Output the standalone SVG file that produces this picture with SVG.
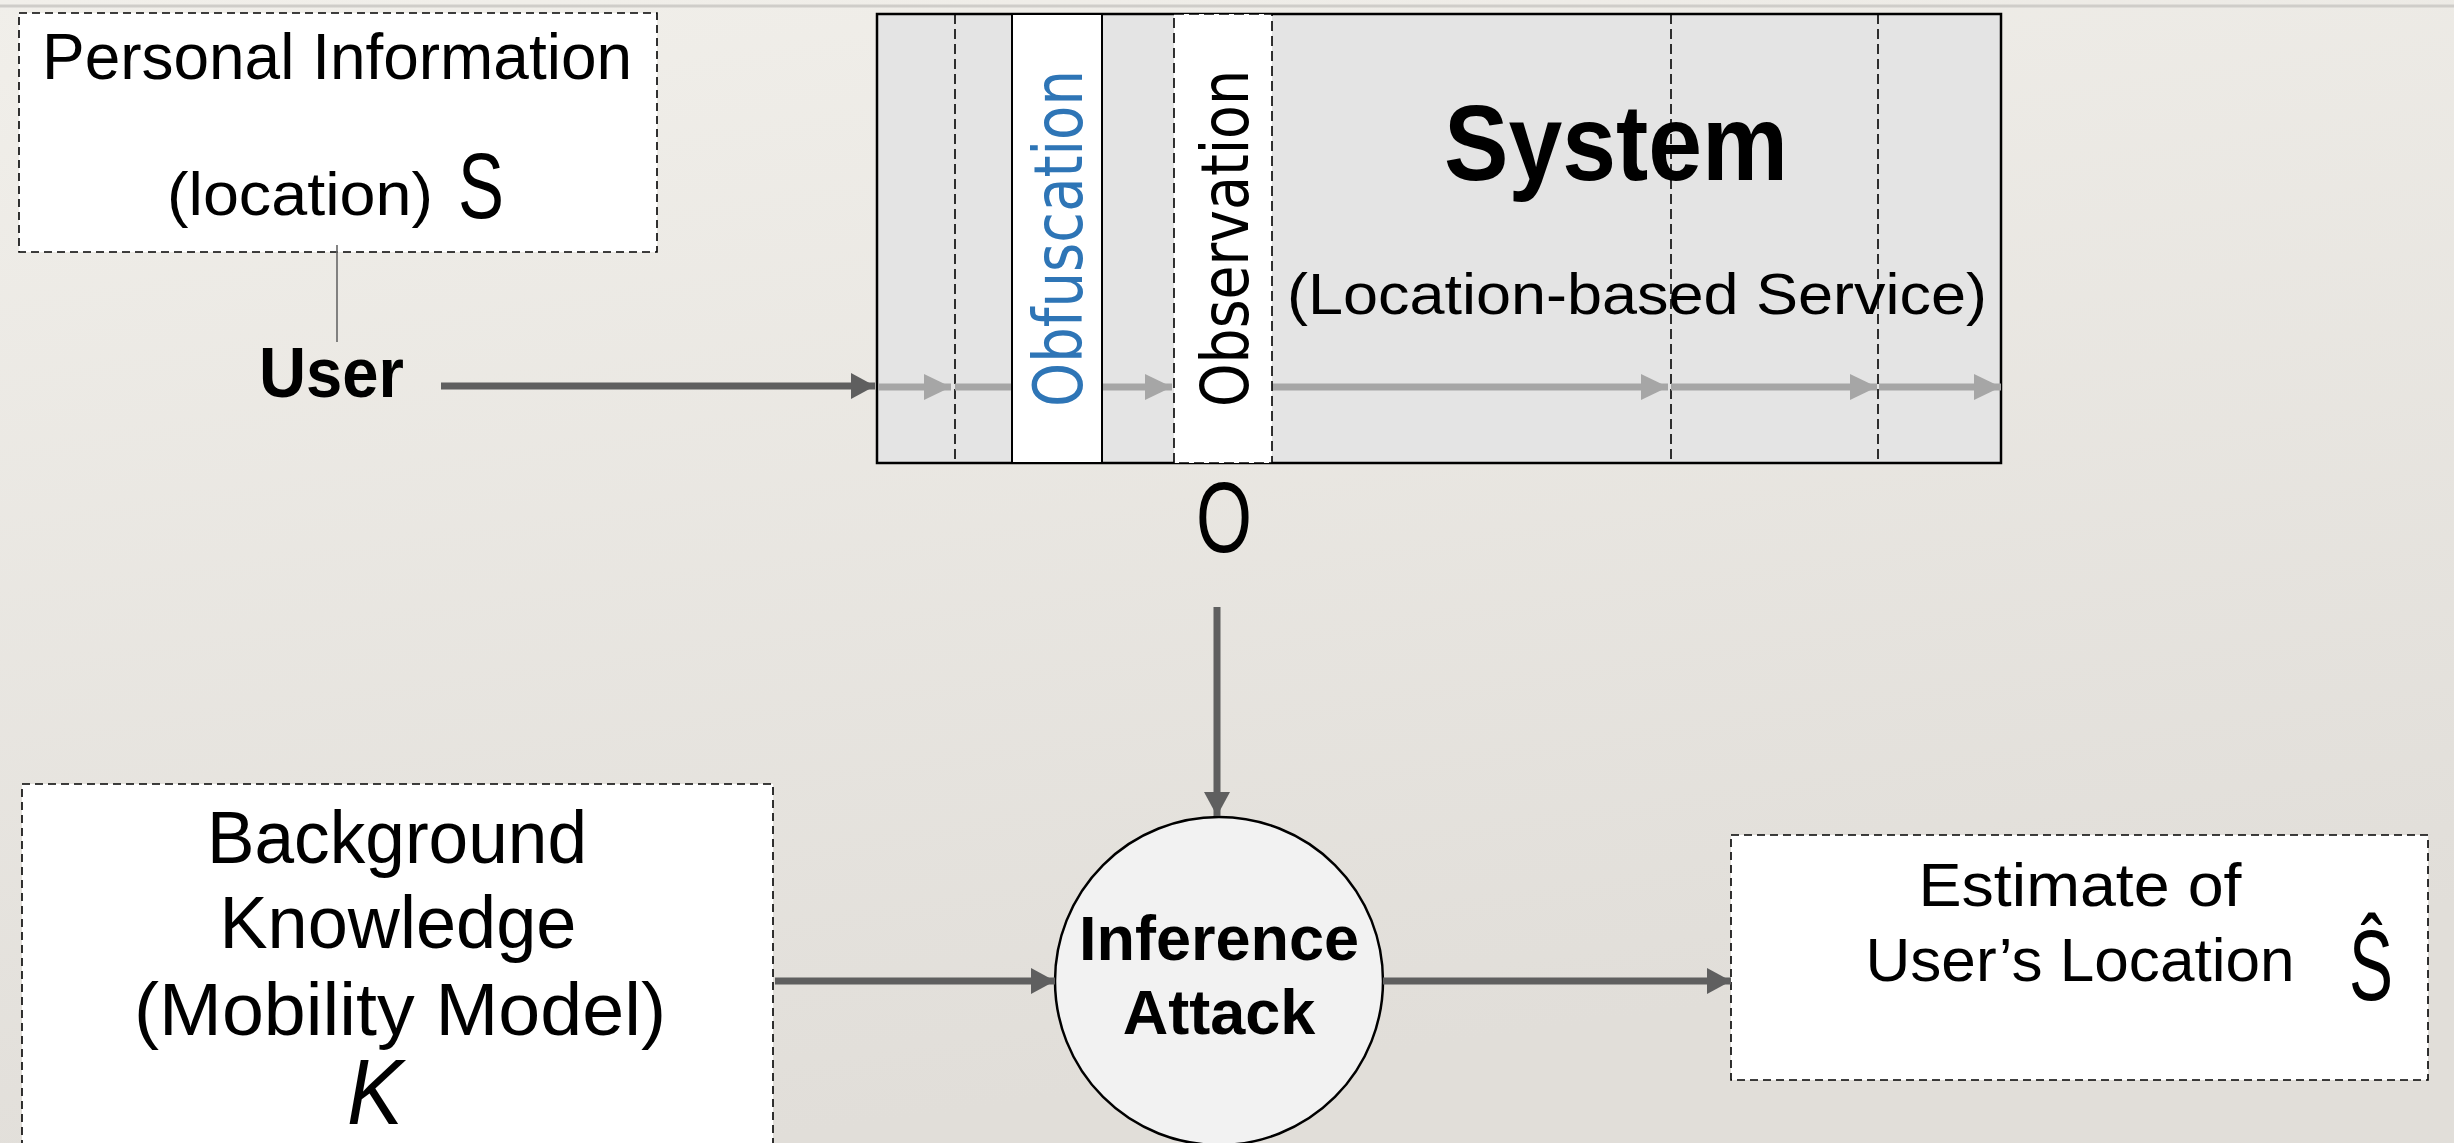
<svg xmlns="http://www.w3.org/2000/svg" width="2454" height="1143" viewBox="0 0 2454 1143">
<defs>
<linearGradient id="bg" x1="0" y1="0" x2="0.3" y2="1">
<stop offset="0" stop-color="#f1efea"/>
<stop offset="1" stop-color="#e1ded9"/>
</linearGradient>
<marker id="ad" viewBox="0 0 24 26" refX="24" refY="13" markerWidth="24" markerHeight="26" markerUnits="userSpaceOnUse" orient="auto">
<path d="M0,0 L24,13 L0,26 z" fill="#5f5f5f"/>
</marker>
<marker id="al" viewBox="0 0 27 26" refX="27" refY="13" markerWidth="27" markerHeight="26" markerUnits="userSpaceOnUse" orient="auto">
<path d="M0,0 L27,13 L0,26 z" fill="#a6a6a6"/>
</marker>
</defs>
<style>
text{font-family:"Liberation Sans",Arial,sans-serif;fill:#000}
.dbox{fill:#fff;stroke:#000;stroke-width:1.6;stroke-dasharray:8 5}
.dl{stroke:#000;stroke-width:1.6;stroke-dasharray:10 5;fill:none}
.dark{stroke:#5f5f5f;stroke-width:7;fill:none}
.light{stroke:#a6a6a6;stroke-width:7;fill:none}
.c{text-anchor:middle}
.b{font-weight:bold}
.v{font-family:"DejaVu Sans","Liberation Sans",sans-serif}
.m{font-weight:300}
</style>
<rect width="2454" height="1143" fill="url(#bg)"/>
<line x1="0" y1="6" x2="2454" y2="6" stroke="#cfcdc9" stroke-width="3"/>

<g id="personal-info">
<rect class="dbox" x="19" y="13" width="638" height="239"/>
<text class="c" x="337" y="79" font-size="64" textLength="590" lengthAdjust="spacingAndGlyphs">Personal Information</text>
<text x="167" y="215" font-size="62" textLength="266" lengthAdjust="spacingAndGlyphs">(location)</text>
<text class="m" x="458" y="218" font-size="92" textLength="46" lengthAdjust="spacingAndGlyphs">S</text>
</g>

<g id="user">
<text class="b" x="259" y="397" font-size="70" textLength="145" lengthAdjust="spacingAndGlyphs">User</text>
</g>

<g id="system">
<rect x="877" y="14" width="1124" height="449" fill="#e4e4e4" stroke="#000" stroke-width="2.5"/>
<line class="dl" x1="955" y1="14" x2="955" y2="463"/>
<line class="dl" x1="1671" y1="14" x2="1671" y2="463"/>
<line class="dl" x1="1878" y1="14" x2="1878" y2="463"/>
<g id="system-flow">
<line class="light" x1="878" y1="387" x2="951" y2="387" marker-end="url(#al)"/>
<line class="light" x1="955" y1="387" x2="1012" y2="387"/>
<line class="light" x1="1102" y1="387" x2="1172" y2="387" marker-end="url(#al)"/>
<line class="light" x1="1272" y1="387" x2="1668" y2="387" marker-end="url(#al)"/>
<line class="light" x1="1671" y1="387" x2="1877" y2="387" marker-end="url(#al)"/>
<line class="light" x1="1879" y1="387" x2="2001" y2="387" marker-end="url(#al)"/>
</g>
<text class="b" x="1444" y="180" font-size="108" textLength="344" lengthAdjust="spacingAndGlyphs">System</text>
<text x="1287" y="314" font-size="58" textLength="700" lengthAdjust="spacingAndGlyphs">(Location-based Service)</text>
</g>

<g id="obfuscation">
<rect x="1012" y="14" width="90" height="449" fill="#fff" stroke="#000" stroke-width="2"/>
<text class="v" transform="translate(1082,407) rotate(-90)" x="0" y="0" font-size="68" style="fill:#2e75b6" textLength="337" lengthAdjust="spacingAndGlyphs">Obfuscation</text>
</g>

<g id="observation">
<rect x="1174" y="14" width="98" height="449" fill="#fff" stroke="#000" stroke-width="1.6" stroke-dasharray="10 5"/>
<text class="v" transform="translate(1248,407) rotate(-90)" x="0" y="0" font-size="66" textLength="337" lengthAdjust="spacingAndGlyphs">Observation</text>
</g>

<g id="observation-label">
<text class="m" x="1196" y="552" font-size="100" textLength="56" lengthAdjust="spacingAndGlyphs">O</text>
</g>

<g id="background-knowledge">
<rect class="dbox" x="22" y="784" width="751" height="380"/>
<text class="c" x="397" y="863" font-size="74" textLength="380" lengthAdjust="spacingAndGlyphs">Background</text>
<text class="c" x="398" y="948" font-size="74" textLength="357" lengthAdjust="spacingAndGlyphs">Knowledge</text>
<text class="c" x="400" y="1035" font-size="74" textLength="532" lengthAdjust="spacingAndGlyphs">(Mobility Model)</text>
<text class="m" x="347" y="1124" font-size="92" font-style="italic" textLength="56" lengthAdjust="spacingAndGlyphs">K</text>
</g>

<g id="inference-attack">
<circle cx="1219" cy="981" r="164" fill="#f2f2f2" stroke="#000" stroke-width="2.5"/>
<text class="c b" x="1219" y="960" font-size="63">Inference</text>
<text class="c b" x="1219" y="1034" font-size="63">Attack</text>
</g>

<g id="estimate">
<rect class="dbox" x="1731" y="835" width="697" height="245"/>
<text class="c" x="2080" y="906" font-size="61" textLength="323" lengthAdjust="spacingAndGlyphs">Estimate of</text>
<text class="c" x="2080" y="981" font-size="61" textLength="429" lengthAdjust="spacingAndGlyphs">User’s Location</text>
<text class="m" x="2349" y="1000" font-size="100" textLength="44" lengthAdjust="spacingAndGlyphs">Ŝ</text>
</g>

<g id="connectors">
<line x1="337" y1="245" x2="337" y2="342" stroke="#666" stroke-width="1.6"/>
<line class="dark" x1="441" y1="386" x2="875" y2="386" marker-end="url(#ad)"/>
<line class="dark" x1="1217" y1="607" x2="1217" y2="816" marker-end="url(#ad)"/>
<line class="dark" x1="775" y1="981" x2="1055" y2="981" marker-end="url(#ad)"/>
<line class="dark" x1="1383" y1="981" x2="1731" y2="981" marker-end="url(#ad)"/>
</g>
</svg>
